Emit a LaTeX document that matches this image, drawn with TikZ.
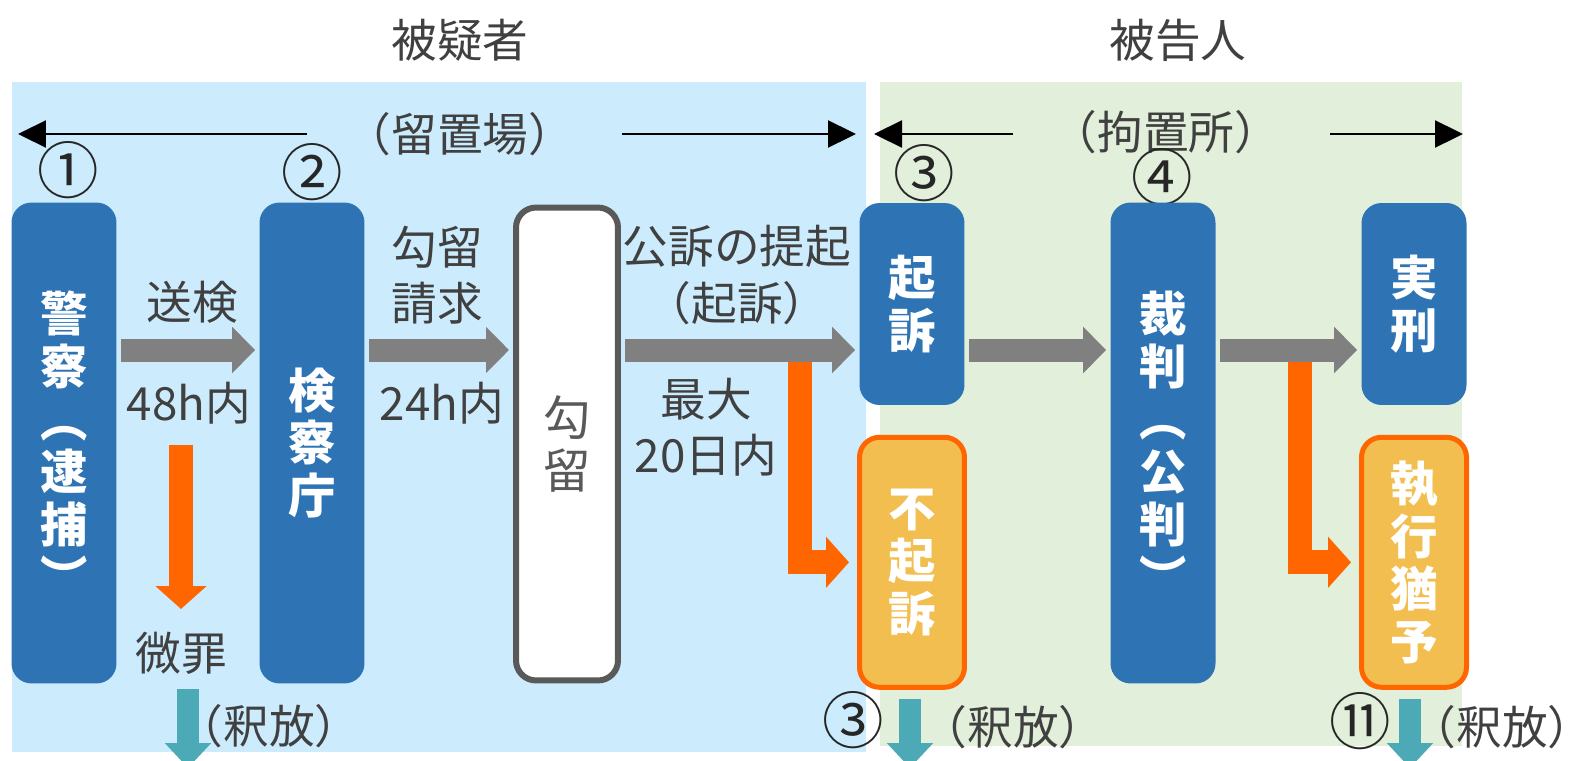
\documentclass[tikz,border=0pt]{standalone}
\usepackage{fontspec}
\setmainfont{Noto Sans CJK JP}
\usetikzlibrary{arrows.meta,positioning,backgrounds}
\definecolor{boxblue}{RGB}{46,116,181}
\definecolor{boxyellow}{RGB}{242,190,80}
\definecolor{boxorange}{RGB}{255,102,0}
\definecolor{flowgray}{RGB}{128,128,128}
\definecolor{freeteal}{RGB}{75,170,182}
\definecolor{bgblue}{RGB}{204,236,253}
\definecolor{bggreen}{RGB}{226,239,218}
\definecolor{txtgray}{RGB}{64,64,64}
\definecolor{holdgray}{RGB}{89,89,89}

\begin{document}
\begin{tikzpicture}[%
    x=0.02cm, y=-0.02cm,        % one unit is one pixel of the reference
    node distance=0.59cm,
    ]

\tikzset{
  base/.style={rectangle, rounded corners=0.4cm, align=center, inner sep=0pt, minimum width=2.1cm, text=white, font={\bfseries\fontsize{27}{30}\selectfont}},
  proc/.style={base, fill=boxblue},
  tall/.style={minimum height=9.62cm},
  short/.style={minimum height=4.04cm},
  halt/.style={base, fill=boxyellow, draw=boxorange, line width=0.1cm, minimum height=5cm},
  jailbox/.style={base, fill=white, draw=holdgray, line width=0.12cm, minimum width=2.04cm, minimum height=9.46cm, text=holdgray, font={\fontsize{27}{30}\selectfont}},
  lbl/.style={text=txtgray, align=center, inner sep=0pt, font={\fontsize{26}{32}\selectfont}},
  circnum/.style={text=black!85, inner sep=0pt, font={\fontsize{35}{35}\selectfont}},
  % -------------------------------------------------
  % Connector styles
  flowarr/.style={draw=flowgray, line width=0.46cm, -{Triangle[length=0.46cm,width=0.9cm]}, shorten <=0.08cm, shorten >=0.08cm},
  branch/.style={draw=boxorange, line width=0.48cm, -{Triangle[length=0.46cm,width=1cm]}},
  free/.style={draw=freeteal, line width=0.44cm, -{Triangle[length=0.5cm,width=0.9cm]}},
  reach/.style={draw, line width=1.3pt, -{Triangle[length=0.56cm,width=0.54cm]}},
}

  \useasboundingbox (0,0) rectangle (1573,761);
  \clip (0,0) rectangle (1573,761);

  \begin{scope}

    \node[lbl] (suspect) at (460,40) {被疑者};
    \node[lbl] (accused) at (1178,40) {被告人};

    \node[lbl] (jail) at (460,134) {（留置場）};
    \node[lbl] (prison) at (1166,132) {（拘置所）};
      \coordinate (jail_a) at (307,134);   \coordinate (jail_b) at (18,134);
      \coordinate (jail_c) at (622,134);   \coordinate (jail_d) at (856,134);
      \coordinate (prison_a) at (1013,134); \coordinate (prison_b) at (874,134);
      \coordinate (prison_c) at (1330,134); \coordinate (prison_d) at (1463,134);
        \draw[reach] (jail_a) -- (jail_b);
        \draw[reach] (jail_c) -- (jail_d);
        \draw[reach] (prison_a) -- (prison_b);
        \draw[reach] (prison_c) -- (prison_d);

    \node[circnum] (n1) at (68,170) {①};
    \node[circnum] (n2) at (312,172) {②};
    \node[circnum] (n3) at (924,173) {③};
    \node[circnum] (n4) at (1162,177) {④};

    \node[proc, tall] (police) at (64,443) {警\\察\\︵\\逮\\捕\\︶};
    \node[proc, tall] (prosecutor) at (312,443) {検\\察\\庁};
    \node[jailbox] (detention) at (567,444) {勾\\留};
    \node[proc, short] (indict) at (912,304) {起\\訴};
    \node[halt, below=of indict] (no_indict) {不\\起\\訴};
    \node[proc, tall] (trial) at (1163,443) {裁\\判\\︵\\公\\判\\︶};
    \node[proc, short] (sentence) at (1414,304) {実\\刑};
    \node[halt, below=of sentence] (suspended) {執\\行\\猶\\予};

    \node[lbl] (send) at (192,302) {送検};
    \node[lbl] (limit48) at (189,403) {48h内};
    \node[lbl] (request) at (437,275) {勾留\\請求};
    \node[lbl] (limit24) at (442,403) {24h内};
    \node[lbl] (charge) at (737,275) {公訴の提起\\（起訴）};
    \node[lbl] (limit20) at (706,427) {最大\\20日内};
    \node[lbl] (minor) at (181,653) {微罪};

    % orange branches go under the grey flow
    \coordinate (flow) at (0,350);
    \coordinate (split1) at (800,350);
    \coordinate (split2) at (1300,350);
      \draw[branch, shorten >=0.16cm] (split1) |- (no_indict.west);
      \draw[branch, shorten >=0.16cm] (split2) |- (suspended.west);
    \coordinate (minor_top) at (181,445);
    \coordinate (minor_tip) at (181,609);
      \draw[branch] (minor_top) -- (minor_tip);

    \draw[flowarr] (police.east |- flow) -- (prosecutor.west |- flow);
    \draw[flowarr] (prosecutor.east |- flow) -- (detention.west |- flow);
    \draw[flowarr] (detention.east |- flow) -- (indict.west |- flow);
    \draw[flowarr] (indict.east |- flow) -- (trial.west |- flow);
    \draw[flowarr] (trial.east |- flow) -- (sentence.west |- flow);

    % release at the bottom edge
    \coordinate (out1) at (188,689);
    \coordinate (out_end) at (0,768);
      \draw[free] (out1) -- (out1 |- out_end);
      \draw[free, shorten <=0.18cm] ([xshift=-0.04cm]no_indict.south) -- ([xshift=-0.04cm]no_indict.south |- out_end);
      \draw[free, shorten <=0.18cm] ([xshift=-0.08cm]suspended.south) -- ([xshift=-0.08cm]suspended.south |- out_end);

    \node[lbl] (release1) at (269,726) {（釈放）};
    \node[circnum] (n3b) at (853,720) {③};
    \node[lbl] (release2) at (1013,727) {（釈放）};
    \node[circnum] (n11) at (1360,721) {⑪};
    \node[lbl] (release3) at (1502,727) {（釈放）};
  \end{scope}

  \begin{pgfonlayer}{background}
    \path[fill=bgblue] (12,82) rectangle (866,752);
    \path[fill=bggreen] (880,82) rectangle (1462,746);
  \end{pgfonlayer}
\end{tikzpicture}
\end{document}
